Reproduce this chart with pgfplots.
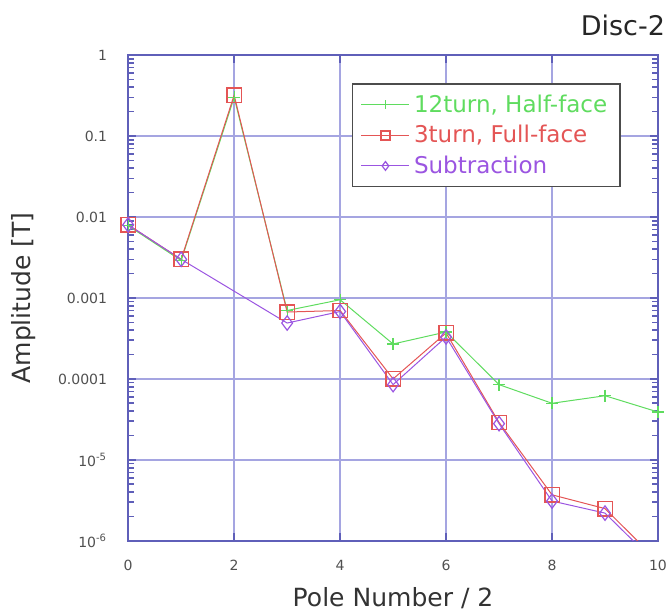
\documentclass[border=0pt]{standalone}
\usepackage{fontspec}
\setmainfont{DejaVu Sans}
\usepackage{pgfplots}
\pgfplotsset{compat=1.18}
\definecolor{gridc}{RGB}{165,165,225}
\definecolor{axc}{RGB}{95,95,185}
\definecolor{grn}{RGB}{95,220,95}
\definecolor{rd}{RGB}{228,85,85}
\definecolor{prp}{RGB}{155,85,225}
\definecolor{tk}{RGB}{80,80,80}

\begin{document}
\begin{tikzpicture}
\useasboundingbox (-64pt,-35.5pt) rectangle (269.5pt,270pt);
\begin{axis}[
  scale only axis, width=264.5pt, height=242.5pt,
  xmin=0, xmax=10, ymin=1e-6, ymax=1, ymode=log,
  xtick={0,2,...,10},
  ytick={1e-6,1e-5,1e-4,1e-3,1e-2,1e-1,1},
  yticklabels={10\textsuperscript{-6},10\textsuperscript{-5},0.0001,0.001,0.01,0.1,1},
  /pgf/number format/assume math mode=true,
  grid=major, major grid style={gridc, line width=0.7pt},
  axis line style={axc, line width=0.9pt},
  tick style={axc, line width=0.8pt}, major tick length=4pt,
  tick align=inside, minor tick num=0,
  ticklabel style={font=\fontsize{7}{8}\selectfont, text=tk},
  yticklabel style={xshift=-7pt},
  xticklabel style={yshift=-6pt},
  xlabel={Pole Number / 2}, ylabel={Amplitude [T]},
  label style={font=\fontsize{12.5}{14}\selectfont, text=black!80},
  xlabel style={at={(axis description cs:0.5,-0.1175)}, anchor=center},
  ylabel style={at={(axis description cs:-0.197,0.5)}, anchor=center},
  clip=true,
  legend style={name=leg, at={(rel axis cs:0.4234,0.940)}, anchor=north west,
    draw=none, fill=white,
    font=\fontsize{11.5}{13}\selectfont, row sep=1pt,
    inner xsep=4pt, inner ysep=3pt},
  legend cell align=left,
  legend image code/.code={\draw[#1, mark size=2.2pt] (0pt,0pt) -- (12pt,0pt) plot coordinates {(12pt,0pt)} -- (24pt,0pt);},
]
\addplot[grn, line width=0.5pt, mark=+, mark size=3pt, mark options={line width=0.6pt}] coordinates {
(0,0.0078) (1,0.0029) (2,0.30) (3,0.0007) (4,0.00095) (5,0.00027)
(6,0.00038) (7,8.5e-5) (8,5.0e-5) (9,6.2e-5) (10,3.9e-5)};
\addlegendentry{\textcolor{grn}{12turn, Half-face}}
\addplot[rd, line width=0.5pt, mark=square, mark size=3.6pt, mark options={line width=0.7pt}] coordinates {
(0,0.0080) (1,0.0030) (2,0.32) (3,0.00067) (4,0.00070) (5,0.000100)
(6,0.00037) (7,2.9e-5) (8,3.7e-6) (9,2.5e-6) (10,5.6e-7)};
\addlegendentry{\textcolor{rd}{3turn, Full-face}}
\addplot[prp, line width=0.5pt, mark=diamond, mark size=3.6pt, mark options={line width=0.6pt}] coordinates {
(0,0.0080) (1,0.0030) (3,0.00049) (4,0.00068) (5,8.5e-5)
(6,0.00033) (7,2.8e-5) (8,3.1e-6) (9,2.2e-6) (10,5.0e-7)};
\addlegendentry{\textcolor{prp}{Subtraction}}
\end{axis}
\draw[black!70, line width=0.8pt] (leg.south west) rectangle (leg.north east);
\node[anchor=center, font=\fontsize{13.5}{15}\selectfont, text=black!85] at (247pt,257.5pt) {Disc-2};
\end{tikzpicture}
\end{document}
